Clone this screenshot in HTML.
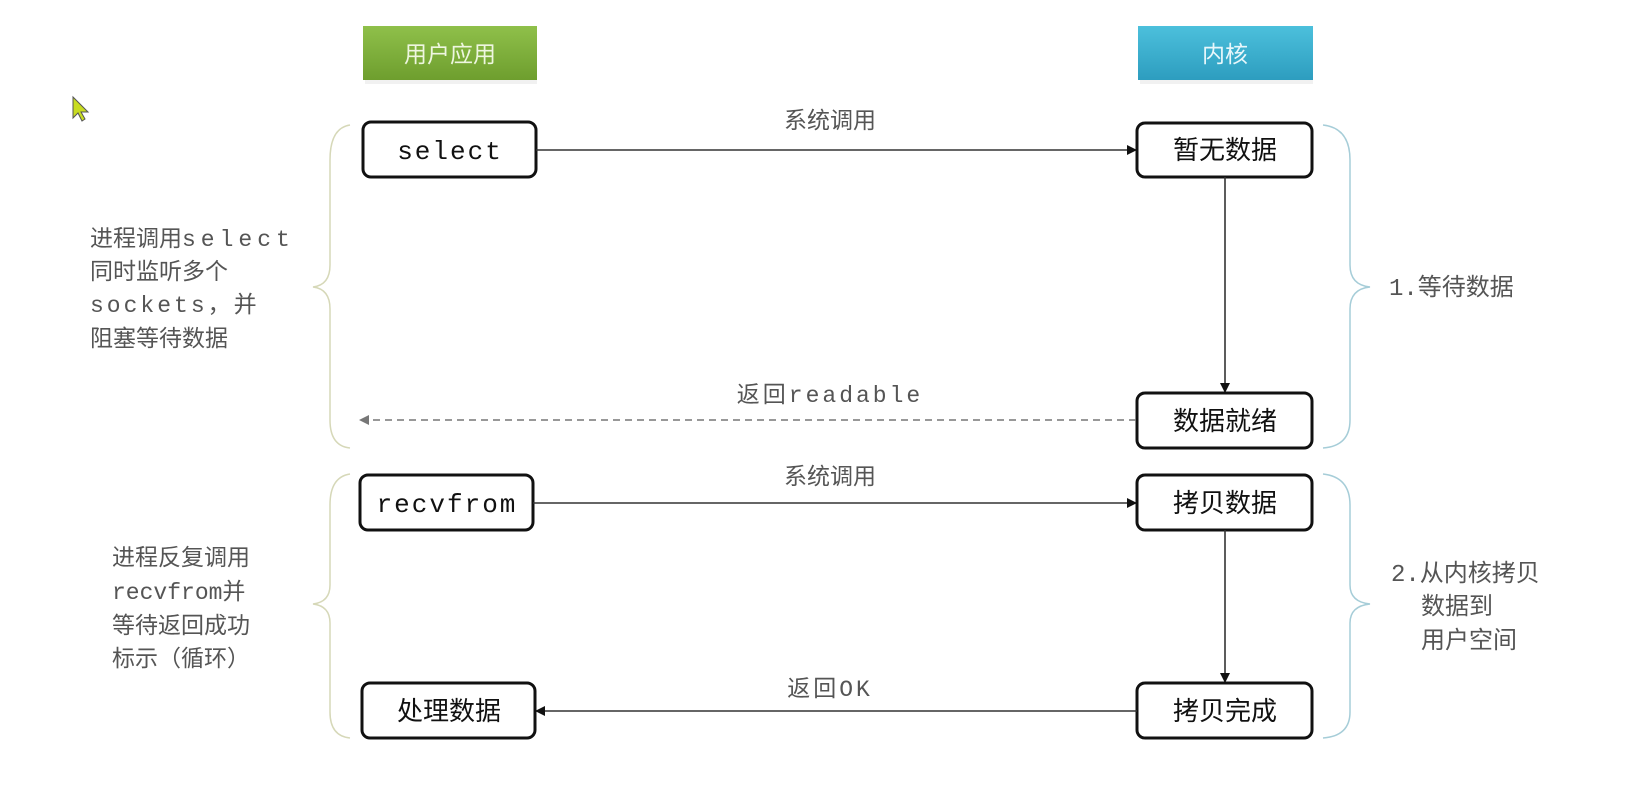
<!DOCTYPE html>
<html><head><meta charset="utf-8"><style>
html,body{margin:0;padding:0;background:#fff;}
svg{display:block;}
text{font-family:"Liberation Mono","Noto Sans CJK SC",monospace;}
</style></head><body>
<svg width="1634" height="786" viewBox="0 0 1634 786" xmlns="http://www.w3.org/2000/svg">
<defs>
<linearGradient id="g" x1="0" y1="0" x2="0" y2="1"><stop offset="0" stop-color="#8fc04a"/><stop offset="1" stop-color="#6e9e2e"/></linearGradient>
<linearGradient id="b" x1="0" y1="0" x2="0" y2="1"><stop offset="0" stop-color="#4cc0dc"/><stop offset="1" stop-color="#2d9dbf"/></linearGradient>
<marker id="ah" markerWidth="10" markerHeight="10" refX="9" refY="5" orient="auto" markerUnits="userSpaceOnUse"><path d="M0,0 L10,5 L0,10 z" fill="#111"/></marker>
<marker id="ahg" markerWidth="10" markerHeight="10" refX="9" refY="5" orient="auto" markerUnits="userSpaceOnUse"><path d="M0,0 L10,5 L0,10 z" fill="#777"/></marker>
</defs>
<rect x="365" y="30" width="172" height="54" fill="#e8e8e8" opacity="0.6"/>
<rect x="363" y="26" width="174" height="54" fill="url(#g)"/>
<text x="450" y="62" font-size="23" fill="#eef6e0" text-anchor="middle">用户应用</text>
<rect x="1140" y="30" width="173" height="54" fill="#e8e8e8" opacity="0.6"/>
<rect x="1138" y="26" width="175" height="54" fill="url(#b)"/>
<text x="1225" y="62" font-size="23" fill="#e8f7fb" text-anchor="middle">内核</text>
<path d="M73,97 L73,118 L78,113 L82,121 L85,119 L81,112 L88,112 z" fill="#c8dc20" stroke="#555" stroke-width="1"/>
<g fill="#fff" stroke="#111" stroke-width="3">
<rect x="363" y="122" width="173" height="55" rx="8"/>
<rect x="1137" y="123" width="175" height="54" rx="8"/>
<rect x="1137" y="393" width="175" height="55" rx="8"/>
<rect x="360" y="475" width="173" height="55" rx="8"/>
<rect x="1137" y="475" width="175" height="55" rx="8"/>
<rect x="362" y="683" width="173" height="55" rx="8"/>
<rect x="1137" y="683" width="175" height="55" rx="8"/>
</g>
<g font-size="26" fill="#111" text-anchor="middle">
<text x="450" y="159" letter-spacing="2">select</text>
<text x="1225" y="159">暂无数据</text>
<text x="1225" y="430">数据就绪</text>
<text x="447" y="512" letter-spacing="2">recvfrom</text>
<text x="1225" y="512">拷贝数据</text>
<text x="449" y="720">处理数据</text>
<text x="1225" y="720">拷贝完成</text>
</g>
<g stroke="#333" stroke-width="1.6" fill="none">
<line x1="536" y1="150" x2="1136" y2="150" marker-end="url(#ah)"/>
<line x1="1225" y1="177" x2="1225" y2="392" marker-end="url(#ah)"/>
<line x1="1136" y1="420" x2="360" y2="420" stroke="#777" stroke-dasharray="7,5" marker-end="url(#ahg)"/>
<line x1="533" y1="503" x2="1136" y2="503" marker-end="url(#ah)"/>
<line x1="1225" y1="530" x2="1225" y2="682" marker-end="url(#ah)"/>
<line x1="1137" y1="711" x2="536" y2="711" marker-end="url(#ah)"/>
</g>
<g font-size="23" fill="#555" text-anchor="middle">
<text x="830" y="128">系统调用</text>
<text x="830" y="402" letter-spacing="3">返回readable</text>
<text x="830" y="484">系统调用</text>
<text x="830" y="696" letter-spacing="3">返回OK</text>
</g>
<g fill="none" stroke="#d6d8b8" stroke-width="1.5">
<path d="M350,125 Q330,128 330,160 L330,265 Q330,285 313,287 Q330,289 330,309 L330,420 Q330,446 350,448"/>
<path d="M350,474 Q330,477 330,505 L330,585 Q330,602 313,604 Q330,606 330,623 L330,712 Q330,736 350,738"/>
</g>
<g fill="none" stroke="#a6cdd8" stroke-width="1.5">
<path d="M1323,125 Q1350,128 1350,160 L1350,265 Q1350,285 1370,287 Q1350,289 1350,309 L1350,420 Q1350,446 1323,448"/>
<path d="M1323,474 Q1350,477 1350,505 L1350,585 Q1350,602 1370,604 Q1350,606 1350,623 L1350,712 Q1350,736 1323,738"/>
</g>
<g font-size="23" fill="#555">
<text x="90" y="246">进程调用<tspan letter-spacing="5">select</tspan></text>
<text x="90" y="279">同时监听多个</text>
<text x="90" y="312"><tspan letter-spacing="3">sockets，</tspan>并</text>
<text x="90" y="346">阻塞等待数据</text>
<text x="112" y="565">进程反复调用</text>
<text x="112" y="599">recvfrom并</text>
<text x="112" y="633">等待返回成功</text>
<text x="112" y="666">标示（循环）</text>
</g>
<g font-size="24" fill="#555">
<text x="1389" y="295">1.等待数据</text>
<text x="1391" y="581">2.从内核拷贝</text>
<text x="1421" y="614">数据到</text>
<text x="1421" y="648">用户空间</text>
</g>
</svg>
</body></html>
